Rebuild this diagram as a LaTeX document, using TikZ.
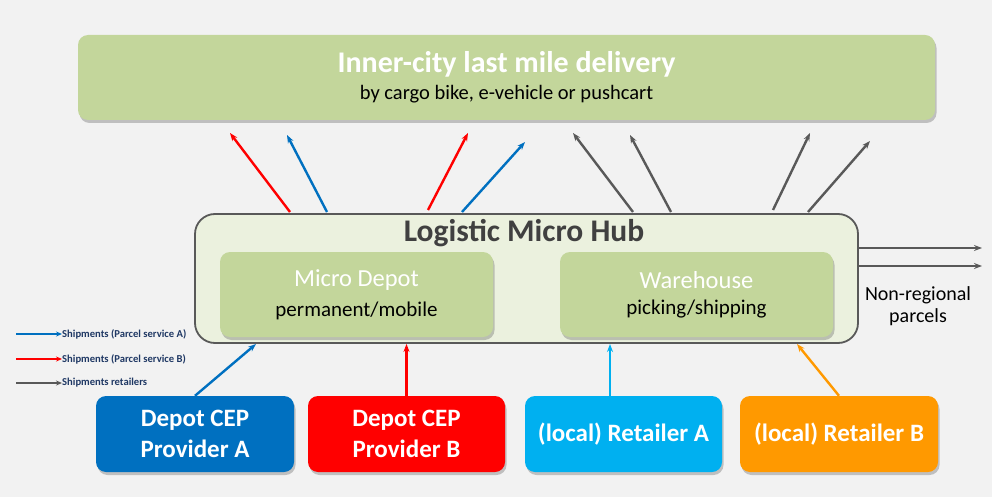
\documentclass[tikz,border=0pt]{standalone}
\usepackage{fontspec}
\setmainfont{Carlito}
\usetikzlibrary{arrows.meta,shadows}
\definecolor{bg}{HTML}{F2F2F2}
\definecolor{boxgreen}{HTML}{C3D69B}
\definecolor{hubfill}{HTML}{EBF1DE}
\definecolor{darkgray}{HTML}{595959}
\definecolor{titlegray}{HTML}{404040}
\definecolor{provA}{HTML}{0070C0}
\definecolor{provB}{HTML}{FF0000}
\definecolor{retA}{HTML}{00B0F0}
\definecolor{retB}{HTML}{FF9900}
\definecolor{legendtext}{HTML}{1F3864}
\tikzset{
  softshadow/.style={drop shadow={shadow xshift=1.5pt,shadow yshift=-3pt,opacity=0.3,fill=black!70}},
  greenbox/.style={fill=boxgreen,rounded corners=10pt,softshadow,align=center,inner sep=0pt},
  sourcebox/.style={rounded corners=10pt,softshadow,align=center,inner sep=0pt,
    minimum width=197pt,minimum height=76pt,text=white,
    font=\fontsize{25}{31}\selectfont\bfseries},
  flow/.style={line width=2.4pt,-{Stealth[length=8pt,width=6pt]}},
  legendarrow/.style={line width=2pt,-{Stealth[length=6pt,width=5pt]}},
  legendlabel/.style={anchor=west,inner sep=0pt,text=legendtext,
    font=\fontsize{10.6}{12}\selectfont\bfseries},
}
\begin{document}
\begin{tikzpicture}[x=1pt,y=-1pt]
  % canvas
  \fill[bg] (0,0) rectangle (992,497);
  \useasboundingbox (0,0) rectangle (992,497);

  % last mile delivery banner
  \node[greenbox,minimum width=857pt,minimum height=85pt] (delivery) at (506.5,77.5)
    {{\fontsize{30}{30}\selectfont\bfseries\color{white}Inner-city last mile delivery}\\[7pt]
     {\fontsize{20.5}{20.5}\selectfont by cargo bike, e-vehicle or pushcart}};

  % micro hub frame
  \node[draw=darkgray,line width=1.8pt,fill=hubfill,rounded corners=20pt,
        minimum width=663pt,minimum height=129pt,inner sep=0pt] (hub) at (526.5,278.5) {};
  \node[text=titlegray,font=\fontsize{31.5}{31.5}\selectfont\bfseries] (hubtitle) at (524,233) {Logistic Micro Hub};

  \node[greenbox,minimum width=273pt,minimum height=85pt] (depot) at (356.5,294.5)
    {{\fontsize{24.5}{24.5}\selectfont\color{white}Micro Depot}\\[10pt]
     {\fontsize{21}{21}\selectfont permanent/mobile}};
  \node[greenbox,minimum width=273pt,minimum height=85pt] (warehouse) at (696.5,294.5)
    {{\fontsize{24.5}{24.5}\selectfont\color{white}Warehouse}\\[10pt]
     {\fontsize{21}{21}\selectfont picking/shipping}};

  % suppliers
  \node[sourcebox,fill=provA,minimum width=198pt] (cepA) at (195,434) {Depot CEP\\Provider A};
  \node[sourcebox,fill=provB] (cepB) at (406.5,434) {Depot CEP\\Provider B};
  \node[sourcebox,fill=retA] (retailA) at (623.5,434) {(local) Retailer A};
  \node[sourcebox,fill=retB,minimum width=198pt] (retailB) at (839,434) {(local) Retailer B};

  % inbound flows
  \coordinate (hubA) at (256,344);
  \coordinate (hubC) at (610,344);
  \coordinate (hubD) at (797,344);
  \draw[flow,provA] (cepA.north) -- (hubA);
  \draw[flow,provB] (cepB.north) -- (cepB.north |- hub.south);
  \draw[flow,retA] (retailA.north -| hubC) -- (hubC);
  \draw[flow,retB] (retailB.north) -- (hubD);

  % outbound flows to the delivery tier
  \coordinate (o1) at (290,212);  \coordinate (d1) at (230,133);
  \coordinate (o2) at (327,212);  \coordinate (d2) at (287,135);
  \coordinate (o3) at (428,210);  \coordinate (d3) at (468,133);
  \coordinate (o4) at (462,212);  \coordinate (d4) at (525,142);
  \coordinate (o5) at (633,212);  \coordinate (d5) at (573,133);
  \coordinate (o6) at (671,212);  \coordinate (d6) at (630,135);
  \coordinate (o7) at (773,210);  \coordinate (d7) at (810,133);
  \coordinate (o8) at (808,212);  \coordinate (d8) at (870,141);
  \draw[flow,provB] (o1) -- (d1);
  \draw[flow,provA] (o2) -- (d2);
  \draw[flow,provB] (o3) -- (d3);
  \draw[flow,provA] (o4) -- (d4);
  \draw[flow,darkgray] (o5) -- (d5);
  \draw[flow,darkgray] (o6) -- (d6);
  \draw[flow,darkgray] (o7) -- (d7);
  \draw[flow,darkgray] (o8) -- (d8);

  % non-regional outflow
  \coordinate (nr1) at (982,248);
  \coordinate (nr2) at (982,266);
  \draw[flow,darkgray] (hub.east |- nr1) -- (nr1);
  \draw[flow,darkgray] (hub.east |- nr2) -- (nr2);
  \node[align=center,font=\fontsize{20}{22}\selectfont] (nonreg) at (918,306) {Non-regional\\parcels};

  % legend
  \node[legendlabel] (legA) at (62,334) {Shipments (Parcel service A)};
  \node[legendlabel] (legB) at (62,359) {Shipments (Parcel service B)};
  \node[legendlabel] (legR) at (62,383) {Shipments retailers};
  \coordinate (lsA) at (16,334);
  \coordinate (lsB) at (16,359);
  \coordinate (lsR) at (16,383);
  \draw[legendarrow,provA] (lsA) -- (legA.west);
  \draw[legendarrow,provB] (lsB) -- (legB.west);
  \draw[legendarrow,darkgray] (lsR) -- (legR.west);
\end{tikzpicture}
\end{document}
